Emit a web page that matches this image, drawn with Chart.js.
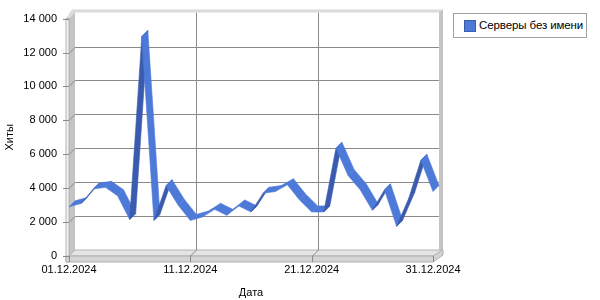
<!DOCTYPE html>
<html>
<head>
<meta charset="utf-8">
<script src="https://cdn.jsdelivr.net/npm/chart.js@4.4.1/dist/chart.umd.min.js"></script>
<style>
  html, body { margin: 0; padding: 0; background: #fff; }
  #wrap { position: relative; width: 600px; height: 300px; }
  #legend {
    position: absolute; left: 453px; top: 13px; width: 134px; height: 25px;
    box-sizing: border-box; border: 1px solid #a0a0a0; background: #fff;
    font: 11.5px "Liberation Sans", Arial, sans-serif; color: #000;
  }
  #legend .sw {
    position: absolute; left: 10px; top: 6px; width: 12px; height: 12px;
    box-sizing: border-box; background: #4d79d9; border: 1px solid #3b5cae;
  }
  #legend .txt { position: absolute; left: 25px; top: 5px; white-space: nowrap; letter-spacing: -0.1px; }
</style>
</head>
<body>
<div id="wrap">
  <canvas id="chart" width="600" height="300"></canvas>
  <div id="legend"><span class="sw"></span><span class="txt" id="legendText"></span></div>
</div>
<script>
const dates = [
  '01.12.2024', '02.12.2024', '03.12.2024', '04.12.2024', '05.12.2024', '06.12.2024', '07.12.2024',
  '08.12.2024', '09.12.2024', '10.12.2024', '11.12.2024', '12.12.2024', '13.12.2024', '14.12.2024',
  '15.12.2024', '16.12.2024', '17.12.2024', '18.12.2024', '19.12.2024', '20.12.2024', '21.12.2024',
  '22.12.2024', '23.12.2024', '24.12.2024', '25.12.2024', '26.12.2024', '27.12.2024', '28.12.2024',
  '29.12.2024', '30.12.2024', '31.12.2024'
];
const hits = [
  2900, 3100, 3950, 4050, 3550, 2150, 12950,
  2100, 4150, 3000, 2100, 2300, 2750, 2400,
  2950, 2600, 3700, 3800, 4200, 3300, 2600,
  2600, 6350, 4750, 3900, 2700, 3900, 1750,
  3400, 5650, 3800
];
const shownDates = ['01.12.2024', '11.12.2024', '21.12.2024', '31.12.2024'];
const yTicks = [0, 2000, 4000, 6000, 8000, 10000, 12000, 14000];
const seriesName = 'Серверы без имени';

const DEPTH = 6;
const GRID = '#8a8a8a';

document.getElementById('legendText').textContent = seriesName;

function poly(ctx, pts, fill, stroke) {
    ctx.beginPath();
    ctx.moveTo(pts[0][0], pts[0][1]);
    for (let i = 1; i < pts.length; i++) ctx.lineTo(pts[i][0], pts[i][1]);
    ctx.closePath();
    if (fill) { ctx.fillStyle = fill; ctx.fill(); }
    if (stroke) { ctx.strokeStyle = stroke; ctx.lineWidth = 1; ctx.stroke(); }
}

function line(ctx, x1, y1, x2, y2) {
    ctx.beginPath();
    ctx.moveTo(x1, y1);
    ctx.lineTo(x2, y2);
    ctx.stroke();
}

// walls, floor and grid of the 3d box
const box3d = {
    id: 'box3d',
    beforeDatasetsDraw(chart) {
        const ctx = chart.ctx;
        const a = chart.chartArea;
        const x = chart.scales.x, y = chart.scales.y;
        const L = a.left, R = a.right, T = a.top, B = a.bottom, d = DEPTH;
        ctx.save();
        ctx.fillStyle = '#fff';
        ctx.fillRect(L + d, T - d, R - L, B - T);

        // top cap
        poly(ctx, [[L - 3, T], [L + d - 3, T - d - 3], [R + d + 4, T - d - 3], [R + d + 4, T - d], [L + d, T - d], [L, T]], '#dadada', null);
        // left wall
        poly(ctx, [[L, B], [L, T], [L + d, T - d], [L + d, B - d]], '#c4c4c4', null);
        poly(ctx, [[L - 3, B + 6], [L - 3, T], [L, T], [L, B + 6]], '#f4f4f4', '#b0b0b0');
        // right wall
        poly(ctx, [[R + d, B - d], [R + d, T - d], [R + d + 4, T - d - 3], [R + d + 4, B - d]], '#c4c4c4', null);
        // floor
        poly(ctx, [[L, B], [L + d, B - d], [R + d + 4, B - d], [R, B]], '#e4e4e4', '#b4b4b4');
        poly(ctx, [[L - 3, B], [R, B], [R + d + 4, B - d], [R + d + 4, B - d + 5], [R, B + 6], [L - 3, B + 6]], '#d4d4d4', '#b0b0b0');

        ctx.strokeStyle = GRID;
        ctx.lineWidth = 1;
        yTicks.forEach(v => {
            const py = Math.round(y.getPixelForValue(v)) + 0.5;
            line(ctx, L - 6, py, L, py);
            if (v > 0 && v < yTicks[yTicks.length - 1]) {
                line(ctx, L, py, L + d, py - d);
                line(ctx, L + d, py - d, R + d, py - d);
            }
        });
        shownDates.forEach(lbl => {
            const px = Math.round(x.getPixelForValue(dates.indexOf(lbl))) + 0.5;
            line(ctx, px, B, px, B + 6);
            if (lbl !== shownDates[0] && lbl !== shownDates[shownDates.length - 1]) {
                line(ctx, px, B, px + d, B - d);
                line(ctx, px + d, B - d, px + d, T - d);
            }
        });
        ctx.restore();
    }
};

// the series drawn as a 3d ribbon from the dataset's points
const ribbon = {
    id: 'ribbon',
    afterDatasetsDraw(chart) {
        const ctx = chart.ctx;
        const pts = chart.getDatasetMeta(0).data.map(p => [p.x, p.y]);
        const d = DEPTH;
        ctx.save();
        ctx.lineJoin = 'round';
        for (let i = 0; i < pts.length - 1; i++) {
            const p = pts[i], q = pts[i + 1];
            const sx = q[0] - p[0], sy = q[1] - p[1];
            const col = (sx + sy) < 0 ? '#3b5cae' : '#4d79d9';
            poly(ctx, [p, q, [q[0] + d, q[1] - d], [p[0] + d, p[1] - d]], col, null);
            ctx.strokeStyle = col;
            ctx.lineWidth = 0.6;
            ctx.stroke();
        }
        ctx.restore();
    }
};

function spaced(v) {
    return String(v).replace(/\B(?=(\d{3})+(?!\d))/g, ' ');
}

const ctx = document.getElementById('chart').getContext('2d');
new Chart(ctx, {
    type: 'line',
    data: {
        labels: dates,
        datasets: [{
            label: seriesName,
            data: hits,
            showLine: false,
            pointRadius: 0,
            borderWidth: 0
        }]
    },
    options: {
        responsive: false,
        devicePixelRatio: 1,
        animation: false,
        layout: { padding: { left: 0, right: 167, top: 18, bottom: 0 } },
        plugins: {
            legend: { display: false },
            tooltip: { enabled: false }
        },
        scales: {
            x: {
                offset: false,
                grid: { display: false, drawTicks: false },
                border: { display: false },
                ticks: {
                    autoSkip: false,
                    maxRotation: 0,
                    padding: 7,
                    color: '#000',
                    font: { family: 'Liberation Sans', size: 11 },
                    callback: function(val) {
                        const lbl = this.getLabelForValue(val);
                        return shownDates.includes(lbl) ? lbl : null;
                    }
                },
                title: {
                    display: true, text: 'Дата', color: '#000',
                    font: { family: 'Liberation Sans', size: 11 },
                    padding: { top: 5, bottom: 0 }
                },
                afterFit: s => { s.height = 44; }
            },
            y: {
                min: 0,
                max: 14000,
                grid: { display: false, drawTicks: false },
                border: { display: false },
                afterBuildTicks: s => { s.ticks = yTicks.map(v => ({ value: v })); },
                ticks: {
                    padding: 12,
                    color: '#000',
                    font: { family: 'Liberation Sans', size: 11 },
                    callback: v => spaced(v)
                },
                title: {
                    display: true, text: 'Хиты', color: '#000',
                    font: { family: 'Liberation Sans', size: 11 },
                    padding: { top: 3, bottom: 0 }
                },
                afterFit: s => { s.width = 69; }
            }
        }
    },
    plugins: [box3d, ribbon]
});
</script>
</body>
</html>
